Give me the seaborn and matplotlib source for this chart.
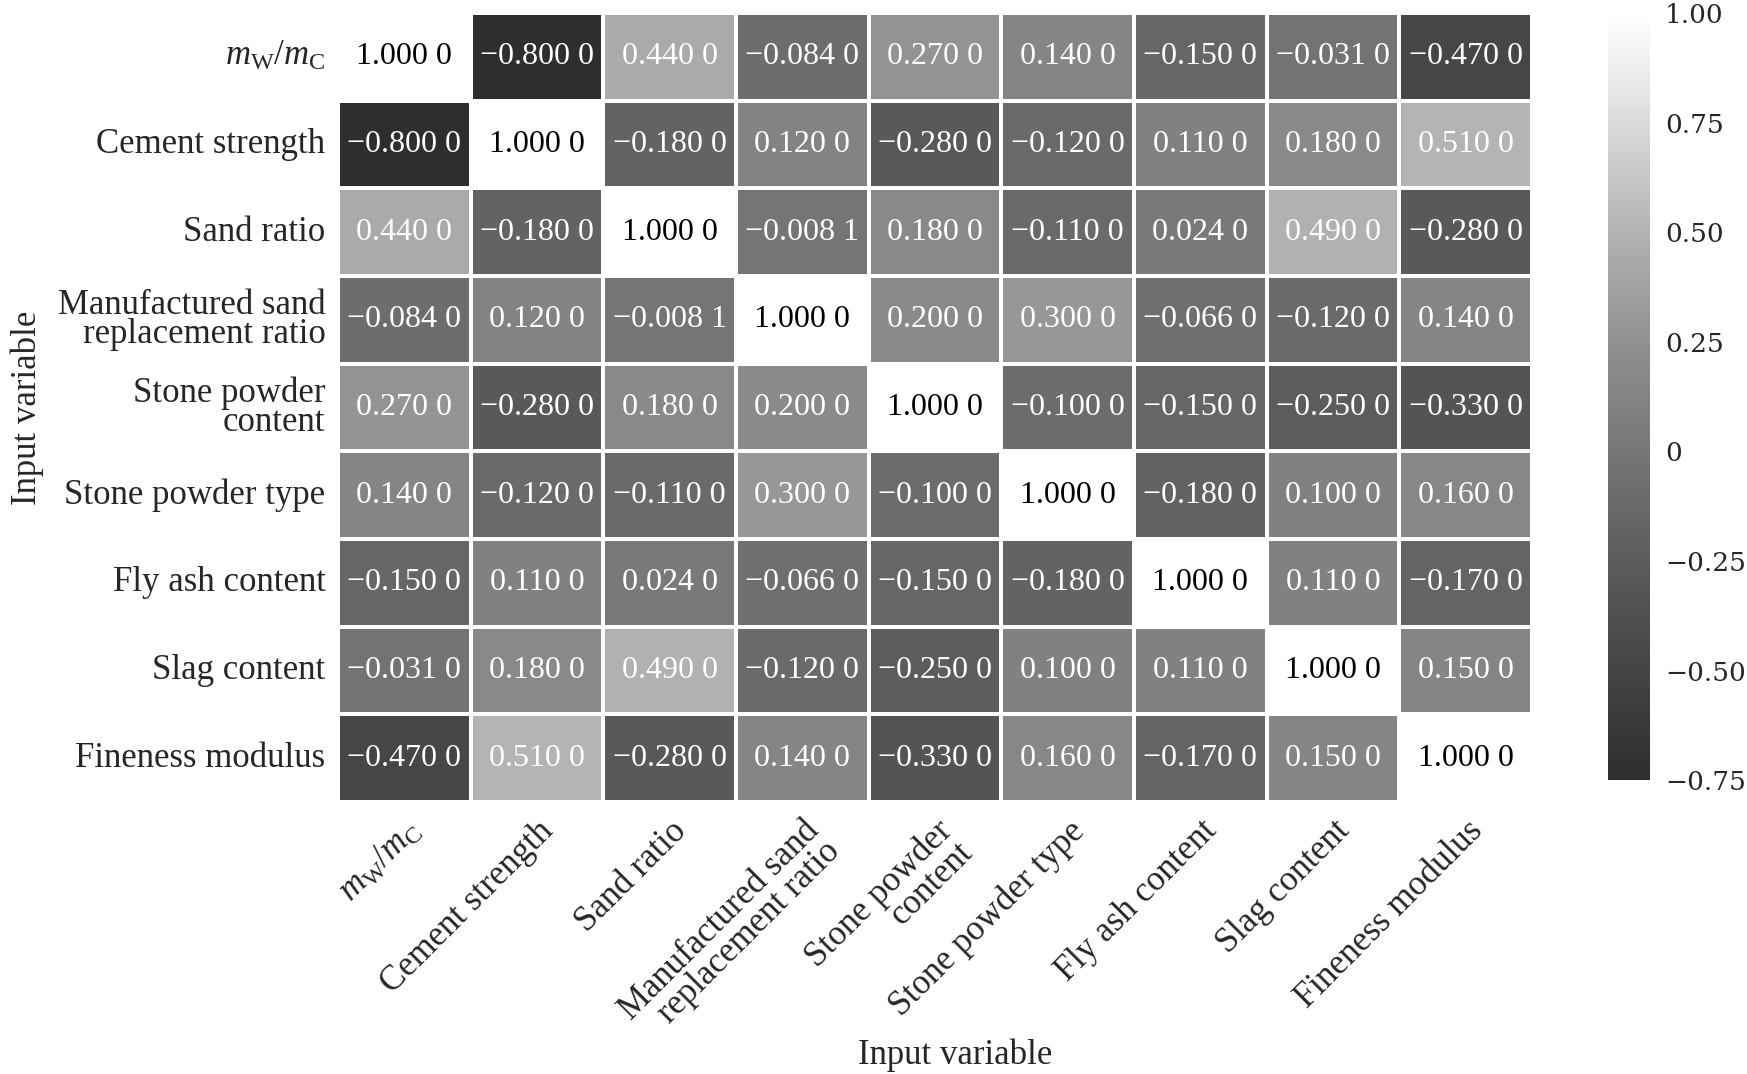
import numpy as np
import pandas as pd
import matplotlib
matplotlib.use('Agg')
import matplotlib.pyplot as plt
import seaborn as sns
from matplotlib.colors import LinearSegmentedColormap

# variable names (rows and columns are the same)
names = [r'$\mathit{m}_{\mathrm{W}}/\mathit{m}_{\mathrm{C}}$', 'Cement strength', 'Sand ratio',
         'Manufactured sand\nreplacement ratio', 'Stone powder\ncontent', 'Stone powder type',
         'Fly ash content', 'Slag content', 'Fineness modulus']

row_mw = [1.0000, -0.8000, 0.4400, -0.0840, 0.2700, 0.1400, -0.1500, -0.0310, -0.4700]
row_cement = [-0.8000, 1.0000, -0.1800, 0.1200, -0.2800, -0.1200, 0.1100, 0.1800, 0.5100]
row_sand = [0.4400, -0.1800, 1.0000, -0.0081, 0.1800, -0.1100, 0.0240, 0.4900, -0.2800]
row_msand = [-0.0840, 0.1200, -0.0081, 1.0000, 0.2000, 0.3000, -0.0660, -0.1200, 0.1400]
row_spc = [0.2700, -0.2800, 0.1800, 0.2000, 1.0000, -0.1000, -0.1500, -0.2500, -0.3300]
row_spt = [0.1400, -0.1200, -0.1100, 0.3000, -0.1000, 1.0000, -0.1800, 0.1000, 0.1600]
row_flyash = [-0.1500, 0.1100, 0.0240, -0.0660, -0.1500, -0.1800, 1.0000, 0.1100, -0.1700]
row_slag = [-0.0310, 0.1800, 0.4900, -0.1200, -0.2500, 0.1000, 0.1100, 1.0000, 0.1500]
row_fineness = [-0.4700, 0.5100, -0.2800, 0.1400, -0.3300, 0.1600, -0.1700, 0.1500, 1.0000]

cbar_ticks = [-0.75, -0.5, -0.25, 0, 0.25, 0.5, 0.75, 1.0]
cbar_labels = ['\u22120.75', '\u22120.50', '\u22120.25', '0', '0.25', '0.50', '0.75', '1.00']

corr = pd.DataFrame([row_mw, row_cement, row_sand, row_msand, row_spc, row_spt,
                     row_flyash, row_slag, row_fineness], index=names, columns=names)

# annotation text like "1.000 0"
def fmt(v):
    s = '{:.4f}'.format(v)
    s = s[:-1] + ' ' + s[-1]
    return s.replace('-', '\u2212')

annot = np.array([[fmt(v) for v in row] for row in corr.values])

# gray colormap
grays = [46, 68, 92, 118, 144, 178, 218, 255]
cmap = LinearSegmentedColormap.from_list('grayish', [(g / 255, g / 255, g / 257 + 0.004) for g in grays])

sns.set_style('white')
plt.rcParams['font.family'] = ['Liberation Serif', 'DejaVu Serif']
plt.rcParams['mathtext.fontset'] = 'custom'
plt.rcParams['mathtext.rm'] = 'Liberation Serif'
plt.rcParams['mathtext.it'] = 'Liberation Serif:italic'

fig = plt.figure(figsize=(17.47, 10.74), dpi=100)
ax = fig.add_axes([0.1935, 0.2533, 0.6835, 0.7347])
cax = fig.add_axes([0.9204, 0.2737, 0.024, 0.7138])

sns.heatmap(corr, ax=ax, cbar_ax=cax, cmap=cmap, vmin=-0.75, vmax=1.0,
            annot=annot, fmt='', annot_kws={'fontsize': 23},
            linewidths=1.5, linecolor='white')

for i, t in enumerate(ax.texts):
    r, c = divmod(i, len(names))
    t.set_color('black' if r == c else 'white')

ax.tick_params(length=0, pad=9)
ax.set_xticklabels(names, rotation=45, ha='right', rotation_mode='anchor',
                   fontsize=25, linespacing=0.85)
ax.set_yticklabels(names, rotation=0, fontsize=25, linespacing=0.85)
ax.set_xlabel('Input variable', fontsize=25)
ax.set_ylabel('Input variable', fontsize=25)
ax.xaxis.set_label_coords(0.517, -0.30)
ax.yaxis.set_label_coords(-0.246, 0.5)

cb = ax.collections[0].colorbar
cb.set_ticks(cbar_ticks)
cb.outline.set_visible(False)
cax.set_yticklabels(cbar_labels, fontfamily='DejaVu Serif', fontsize=19)
cax.tick_params(length=0, pad=11)

fig.savefig('out.png', dpi=100)
